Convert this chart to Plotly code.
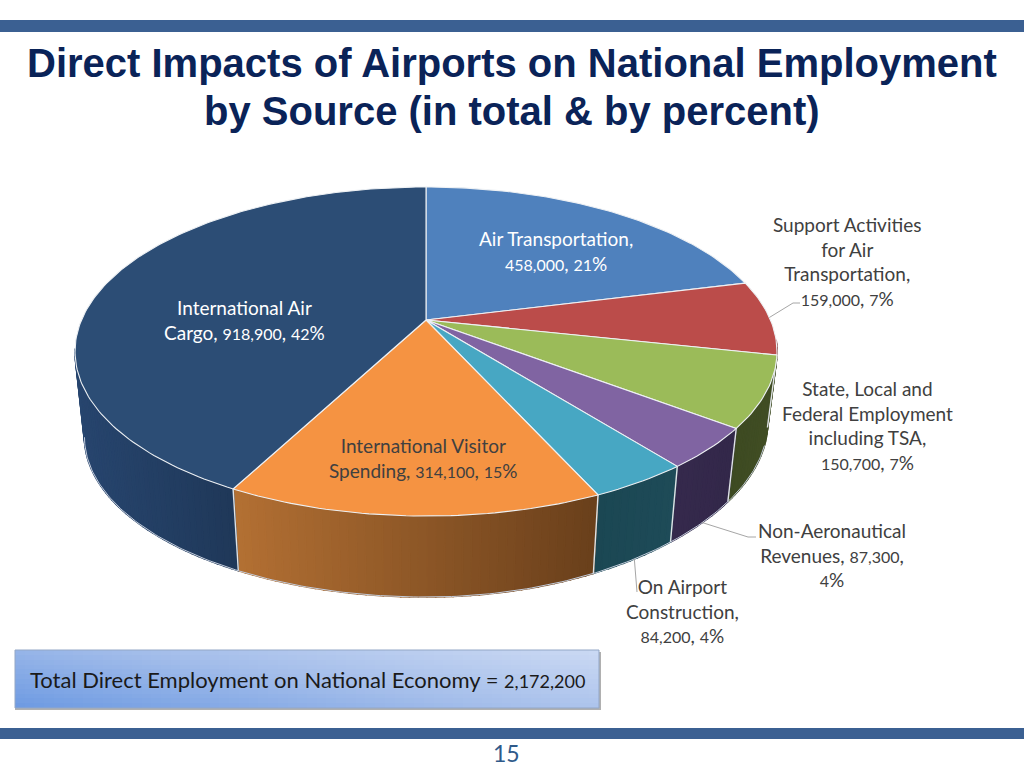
import re
import numpy as np
import plotly.graph_objects as go

# ---------- data ----------
categories = ["Air Transportation", "Support Activities for Air Transportation",
              "State, Local and Federal Employment including TSA",
              "Non-Aeronautical Revenues", "On Airport Construction",
              "International Visitor Spending", "International Air Cargo"]
values = [458000, 159000, 150700, 87300, 84200, 314100, 918900]
top_colors = ["#4f81bd", "#bb4c4a", "#9bbb59", "#8064a2", "#47a7c3", "#f59342", "#2c4d75"]
wall_left = ["#2d4a6e", "#6e2c2b", "#3d4a22", "#35294c", "#1b4753", "#b37033", "#27456e"]
wall_right = ["#2d4a6e", "#6e2c2b", "#414e24", "#33284a", "#1e4b58", "#693f1b", "#1f3859"]
label_texts = ["Air Transportation,<br>458,000, 21%",
               "Support Activities<br>for Air<br>Transportation,<br>159,000, 7%",
               "State, Local and<br>Federal Employment<br>including TSA,<br>150,700, 7%",
               "Non-Aeronautical<br>Revenues, 87,300,<br>4%",
               "On Airport<br>Construction,<br>84,200, 4%",
               "International Visitor<br>Spending, 314,100, 15%",
               "International Air<br>Cargo, 918,900, 42%"]
label_x = [556, 847, 867, 832, 682, 423, 244]
label_y = [251, 261, 425, 555, 611, 458, 320]
label_colors = ["#ffffff", "#404040", "#404040", "#404040", "#404040", "#404040", "#ffffff"]
title_lines = ["Direct Impacts of Airports on National Employment",
               "by Source (in total & by percent)"]
total_text = "Total Direct Employment on National Economy = 2,172,200"
page_number = "15"

LABEL_FONT = "Lato"
LABEL_SIZE = 19

# ---------- pie projection (tilted disc) ----------
CX, CY, BX, AY, K = 426.0, 320.0, 344.5, 158.5, 0.1915


def top_rim(theta):
    u, v = np.sin(theta), np.cos(theta)
    d = 1 + K * v
    return CX + BX * u / d, CY - AY * v / d


def base_rim(theta):
    x, y = top_rim(theta)
    xb = CX + 0.973 * (x - CX)
    yb = 406.3 + 0.973 * (y - CY)
    yb = yb - 10 * (np.clip(xb - CX, 0, None) / 300) ** 2
    return xb, yb


def mix(c1, c2, t):
    a = np.array([int(c1[i:i + 2], 16) for i in (1, 3, 5)])
    b = np.array([int(c2[i:i + 2], 16) for i in (1, 3, 5)])
    r = a + (b - a) * t
    return "rgb(%d,%d,%d)" % tuple(r.round())


def small_digits(text, size):
    """Set runs of figures smaller, as the low old-style figures of the original."""
    return re.sub(r"(\d[\d,]*\d|\d)", lambda m: '<span style="font-size:%gpx">%s</span>' % (size, m.group(1)), text)


total = sum(values)
edges = np.concatenate([[0], np.cumsum(values)]) / total * 2 * np.pi
mids = (edges[:-1] + edges[1:]) / 2
WALL_FROM, WALL_TO = np.radians(97), np.radians(260)

fig = go.Figure()


def poly(xs, ys, fill, line=None, width=1.0):
    fig.add_trace(go.Scatter(x=xs, y=ys, mode="lines", fill="toself", fillcolor=fill,
                             line=dict(color=line or fill, width=width),
                             hoverinfo="skip", showlegend=False))


# side walls
dividers = []
for i in range(len(values)):
    a0, a1 = max(edges[i], WALL_FROM), min(edges[i + 1], WALL_TO)
    if a1 <= a0:
        continue
    n = max(2, int((a1 - a0) / np.radians(1.2)))
    ang = np.linspace(a0, a1, n + 1)
    x0, _ = top_rim(ang[0])
    x1, _ = top_rim(ang[-1])
    lo, hi = min(x0, x1), max(x0, x1)
    for j in range(n):
        seg = np.linspace(ang[j], ang[j + 1], 3)
        tx, ty = top_rim(seg)
        bx, by = base_rim(seg)
        t = np.clip((tx.mean() - lo) / max(hi - lo, 1), 0, 1)
        poly(np.r_[tx, bx[::-1], tx[0]], np.r_[ty, by[::-1], ty[0]],
             mix(wall_left[i], wall_right[i], t), width=1.6)
    if WALL_FROM < edges[i] < WALL_TO:
        dividers.append(edges[i])
for a in dividers:
    tx, ty = top_rim(a)
    bx, by = base_rim(a)
    fig.add_trace(go.Scatter(x=[tx, bx], y=[ty, by], mode="lines",
                             line=dict(color="#dfe3e6", width=1.4),
                             hoverinfo="skip", showlegend=False))

# pale lower edge of the base
edge_ang = np.linspace(WALL_FROM + 0.2, WALL_TO - 0.02, 200)
ex, ey = base_rim(edge_ang)
fig.add_trace(go.Scatter(x=ex, y=ey, mode="lines", line=dict(color="#c3ccdb", width=1),
                         hoverinfo="skip", showlegend=False))

# top face
for i in range(len(values)):
    n = max(4, int((edges[i + 1] - edges[i]) / np.radians(1)))
    ang = np.linspace(edges[i], edges[i + 1], n + 1)
    rx, ry = top_rim(ang)
    poly(np.r_[CX, rx, CX], np.r_[CY, ry, CY], top_colors[i], line="#eef1f4", width=1.1)

# leader lines, anchored on the slices they describe
leaders = [(top_rim(mids[1]), [(793, 303), (800, 303)]),
           (base_rim(mids[3]), [(748, 537), (756, 537)]),
           (base_rim(mids[4]), [(637, 592)])]
for start, rest in leaders:
    xs = [float(start[0])] + [p[0] for p in rest]
    ys = [float(start[1])] + [p[1] for p in rest]
    fig.add_trace(go.Scatter(x=xs, y=ys, mode="lines", line=dict(color="#a6a6a6", width=1),
                             hoverinfo="skip", showlegend=False))

# gradient panel behind the total
nx, ny = 60, 12
wx, wy = 584 / nx, 58 / ny
px = 15 + wx * (np.arange(nx) + 0.5)
py = 650 + wy * (np.arange(ny) + 0.5)
gz = [[0.62 * (x - 15) / 584 + 0.38 * (708 - y) / 58 for x in px] for y in py]
fig.add_trace(go.Heatmap(x=px, y=py, z=gz, zmin=0, zmax=1, showscale=False,
                         colorscale=[[0, "#6d9ae2"], [0.5, "#a3bdea"], [1, "#cbd9f3"]],
                         hoverinfo="skip"))

annotations = []
for text, x, y, color in zip(label_texts, label_x, label_y, label_colors):
    annotations.append(dict(x=x, y=y, text=small_digits(text, 16), showarrow=False, xanchor="center",
                            yanchor="middle", align="center",
                            font=dict(family=LABEL_FONT, size=LABEL_SIZE, color=color)))
for text, y in zip(title_lines, [63, 111]):
    annotations.append(dict(x=512, y=y, text="<b>%s</b>" % text, showarrow=False, xanchor="center",
                            yanchor="middle", font=dict(family="Liberation Sans", size=40, color="#0a2358")))
annotations.append(dict(x=307, y=679, text=small_digits(total_text, 18), showarrow=False, xanchor="center",
                        yanchor="middle", font=dict(family=LABEL_FONT, size=22, color="#1a1a1a")))
annotations.append(dict(x=506, y=753, text=page_number, showarrow=False, xanchor="center", yanchor="middle",
                        font=dict(family=LABEL_FONT, size=23, color="#2f5a8a")))

shapes = [
    dict(type="rect", x0=0, x1=1024, y0=20, y1=32, fillcolor="#3b6092", line_width=0, layer="below"),
    dict(type="rect", x0=0, x1=1024, y0=728, y1=739, fillcolor="#3b6092", line_width=0, layer="below"),
    dict(type="rect", x0=15, x1=601, y0=652, y1=710, fillcolor="#b0b0b0", line_width=0, layer="below"),
    dict(type="rect", x0=15, x1=599, y0=650, y1=708, fillcolor="rgba(0,0,0,0)",
         line=dict(color="#93a7c6", width=1), layer="above"),
]

fig.update_layout(
    width=1024, height=768, margin=dict(l=0, r=0, t=0, b=0),
    paper_bgcolor="white", plot_bgcolor="white", showlegend=False,
    xaxis=dict(range=[0, 1024], visible=False, fixedrange=True),
    yaxis=dict(range=[768, 0], visible=False, fixedrange=True),
    shapes=shapes, annotations=annotations,
)
fig.write_html("out.html", config=dict(displayModeBar=False),
               post_script="document.body.style.margin='0';document.body.style.overflow='hidden';")
